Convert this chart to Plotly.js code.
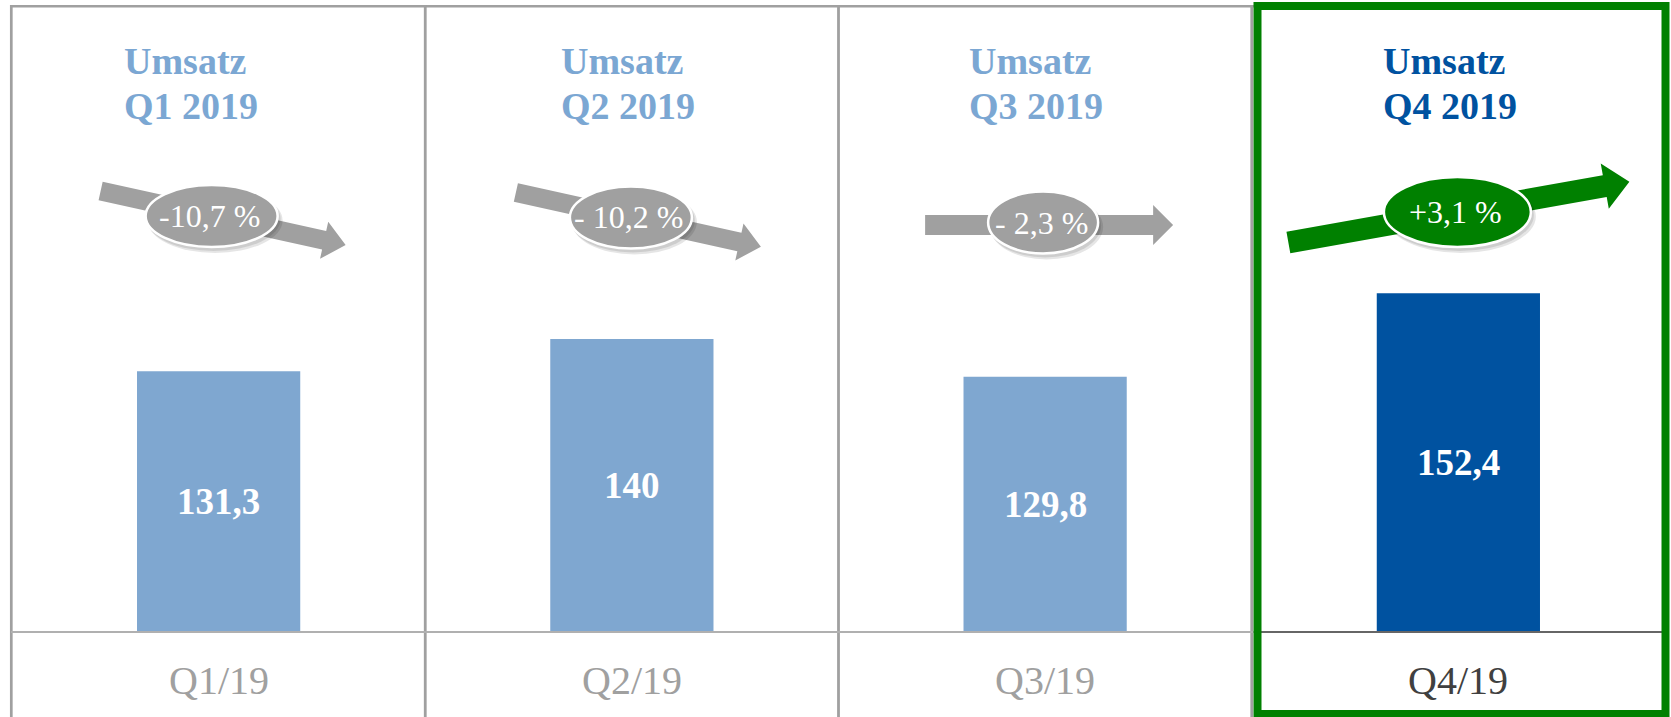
<!DOCTYPE html>
<html>
<head>
<meta charset="utf-8">
<script src="https://cdn.plot.ly/plotly-3.0.1.min.js"></script>
<style>
  html, body { margin: 0; padding: 0; background: #ffffff; }
  #chart { width: 1671px; height: 717px; }
</style>
</head>
<body>
<div id="chart"></div>
<script>
// ---- data ----
const categories = ['Q1/19', 'Q2/19', 'Q3/19', 'Q4/19'];
const revenue = [131.3, 140, 129.8, 152.4];
const headlineWord = 'Umsatz';
const headlinePeriods = ['Q1 2019', 'Q2 2019', 'Q3 2019', 'Q4 2019'];
const changeLabels = ['-10,7 %', '- 10,2 %', '- 2,3 %', '+3,1 %'];

// ---- styles ----
const FONT = '"Liberation Serif", "Times New Roman", Times, serif';
const barColors = ['#7FA7D0', '#7FA7D0', '#7FA7D0', '#0052A0'];
const titleColors = ['#7BA7D3', '#7BA7D3', '#7BA7D3', '#0052A0'];
const catColors = ['#A0A0A0', '#A0A0A0', '#A0A0A0', '#404040'];
const arrowColors = ['#A0A0A0', '#A0A0A0', '#A0A0A0', '#008000'];
const titleDx = [-97, -73, -78, -77];
// arrow geometry: offsets from category centre (px) and absolute pixel y
const arrowGeo = [
  {tx: -118, ty: 191, hx: 127, hy: 245, a: 9.5, b: 19, L: 22},
  {tx: -116, ty: 192.5, hx: 129, hy: 246.7, a: 9.5, b: 19, L: 22},
  {tx: -120, ty: 225, hx: 128, hy: 225, a: 10, b: 20, L: 20},
  {tx: -170, ty: 242.5, hx: 171, hy: 181.7, a: 11, b: 23, L: 25}
];
const ellipseGeo = [
  {dx: -7, cy: 216, w: 132, h: 62},
  {dx: -1, cy: 217.5, w: 122, h: 62},
  {dx: -2, cy: 222.5, w: 110, h: 62},
  {dx: -1, cy: 212, w: 147, h: 70}
];

// ---- geometry helpers (layout in pixels) ----
const W = 1671, H = 717;
const M = {l: 12, r: 6, t: 0, b: 85};
const PW = W - M.l - M.r, PH = H - M.t - M.b;
const step = PW / categories.length;
const cx = i => M.l + step * (i + 0.5);
const xp = px => (px - M.l) / PW;
const yp = py => 1 - (py - M.t) / PH;

const pxPerUnit = 3.69;
const yBase = 60.62;

const shapes = [];
const annotations = [];

// frame lines
const gray = '#A0A0A0';
shapes.push({type: 'line', xref: 'paper', yref: 'paper', x0: xp(11.3), x1: xp(11.3), y0: yp(5), y1: yp(717), line: {color: gray, width: 2.7}});
shapes.push({type: 'line', xref: 'paper', yref: 'paper', x0: xp(10), x1: xp(1257), y0: yp(6.2), y1: yp(6.2), line: {color: gray, width: 2.5}});
for (let k = 1; k < categories.length; k++) {
  shapes.push({type: 'line', xref: 'x', yref: 'paper', x0: k - 0.5, x1: k - 0.5, y0: yp(5), y1: yp(717), line: {color: gray, width: 2.8}});
}
shapes.push({type: 'line', xref: 'paper', yref: 'paper', x0: xp(11), x1: xp(1257), y0: yp(632), y1: yp(632), line: {color: '#B0B0B0', width: 2}});
shapes.push({type: 'line', xref: 'paper', yref: 'paper', x0: xp(1257), x1: xp(1665), y0: yp(632), y1: yp(632), line: {color: '#666666', width: 2}});

// arrows + ellipses
function arrowPath(g, c) {
  const x0 = c + g.tx, y0 = g.ty, x1 = c + g.hx, y1 = g.hy;
  const len = Math.hypot(x1 - x0, y1 - y0);
  const ux = (x1 - x0) / len, uy = (y1 - y0) / len;
  const nx = -uy, ny = ux;
  const hx = x1 - g.L * ux, hy = y1 - g.L * uy;
  const pts = [
    [x0 + g.a * nx, y0 + g.a * ny],
    [hx + g.a * nx, hy + g.a * ny],
    [hx + g.b * nx, hy + g.b * ny],
    [x1, y1],
    [hx - g.b * nx, hy - g.b * ny],
    [hx - g.a * nx, hy - g.a * ny],
    [x0 - g.a * nx, y0 - g.a * ny]
  ];
  return 'M' + pts.map(p => xp(p[0]).toFixed(5) + ',' + yp(p[1]).toFixed(5)).join(' L') + ' Z';
}

categories.forEach((cat, i) => {
  const c = cx(i);
  shapes.push({type: 'path', xref: 'paper', yref: 'paper', path: arrowPath(arrowGeo[i], c),
    fillcolor: arrowColors[i], line: {width: 0}});
  const e = ellipseGeo[i];
  const ex = c + e.dx;
  // soft shadow
  shapes.push({type: 'circle', xref: 'paper', yref: 'paper',
    x0: xp(ex - e.w / 2 + 2), x1: xp(ex + e.w / 2 + 5), y0: yp(e.cy - e.h / 2 + 3), y1: yp(e.cy + e.h / 2 + 6),
    fillcolor: 'rgba(0,0,0,0.10)', line: {width: 0}});
  shapes.push({type: 'circle', xref: 'paper', yref: 'paper',
    x0: xp(ex - e.w / 2 + 1), x1: xp(ex + e.w / 2 + 3), y0: yp(e.cy - e.h / 2 + 2), y1: yp(e.cy + e.h / 2 + 4),
    fillcolor: 'rgba(0,0,0,0.10)', line: {width: 0}});
  shapes.push({type: 'circle', xref: 'paper', yref: 'paper',
    x0: xp(ex - e.w / 2), x1: xp(ex + e.w / 2), y0: yp(e.cy - e.h / 2), y1: yp(e.cy + e.h / 2),
    fillcolor: arrowColors[i], line: {color: '#FFFFFF', width: 2.5}});
  annotations.push({xref: 'paper', yref: 'paper', x: xp(ex - 2), y: yp(e.cy), xanchor: 'center', yanchor: 'middle',
    text: changeLabels[i], showarrow: false, font: {family: FONT, size: 32, color: '#FFFFFF'}});

  // headline
  annotations.push({xref: 'paper', yref: 'paper', x: xp(c + titleDx[i]), y: yp(61), xanchor: 'left', yanchor: 'middle',
    text: '<b>' + headlineWord + '</b>', showarrow: false, align: 'left',
    font: {family: FONT, size: 38, color: titleColors[i]}});
  annotations.push({xref: 'paper', yref: 'paper', x: xp(c + titleDx[i]), y: yp(105.5), xanchor: 'left', yanchor: 'middle',
    text: '<b>' + headlinePeriods[i] + '</b>', showarrow: false, align: 'left',
    font: {family: FONT, size: 38, color: titleColors[i]}});

  // value label centred in the visible part of the bar
  annotations.push({xref: 'x', yref: 'y', x: cat, y: (yBase + revenue[i]) / 2, xanchor: 'center', yanchor: 'middle',
    text: '<b>' + String(revenue[i]).replace('.', ',') + '</b>', showarrow: false,
    font: {family: FONT, size: 37, color: '#FFFFFF'}});

  // category label
  annotations.push({xref: 'x', yref: 'paper', x: cat, y: yp(680.5), xanchor: 'center', yanchor: 'middle',
    text: cat, showarrow: false, font: {family: FONT, size: 40, color: catColors[i]}});
});

// green highlight frame
shapes.push({type: 'rect', xref: 'paper', yref: 'paper', x0: xp(1257.5), x1: xp(1665.5), y0: yp(6), y1: yp(714),
  line: {color: '#008000', width: 8}, fillcolor: 'rgba(0,0,0,0)'});

const trace = {
  type: 'bar',
  x: categories,
  y: revenue,
  width: 0.395,
  marker: {color: barColors, line: {width: 0}},
  hoverinfo: 'none',
  cliponaxis: true
};

const layout = {
  width: W, height: H,
  margin: {l: M.l, r: M.r, t: M.t, b: M.b, pad: 0},
  paper_bgcolor: '#FFFFFF', plot_bgcolor: '#FFFFFF',
  showlegend: false,
  separators: ',.',
  xaxis: {type: 'category', range: [-0.5, categories.length - 0.5], showticklabels: false,
    showgrid: false, zeroline: false, showline: false, ticks: '', fixedrange: true},
  yaxis: {range: [yBase, yBase + PH / pxPerUnit], visible: false, showgrid: false, zeroline: false, fixedrange: true},
  shapes: shapes,
  annotations: annotations
};

Plotly.newPlot('chart', [trace], layout, {displayModeBar: false, staticPlot: true});
</script>
</body>
</html>
